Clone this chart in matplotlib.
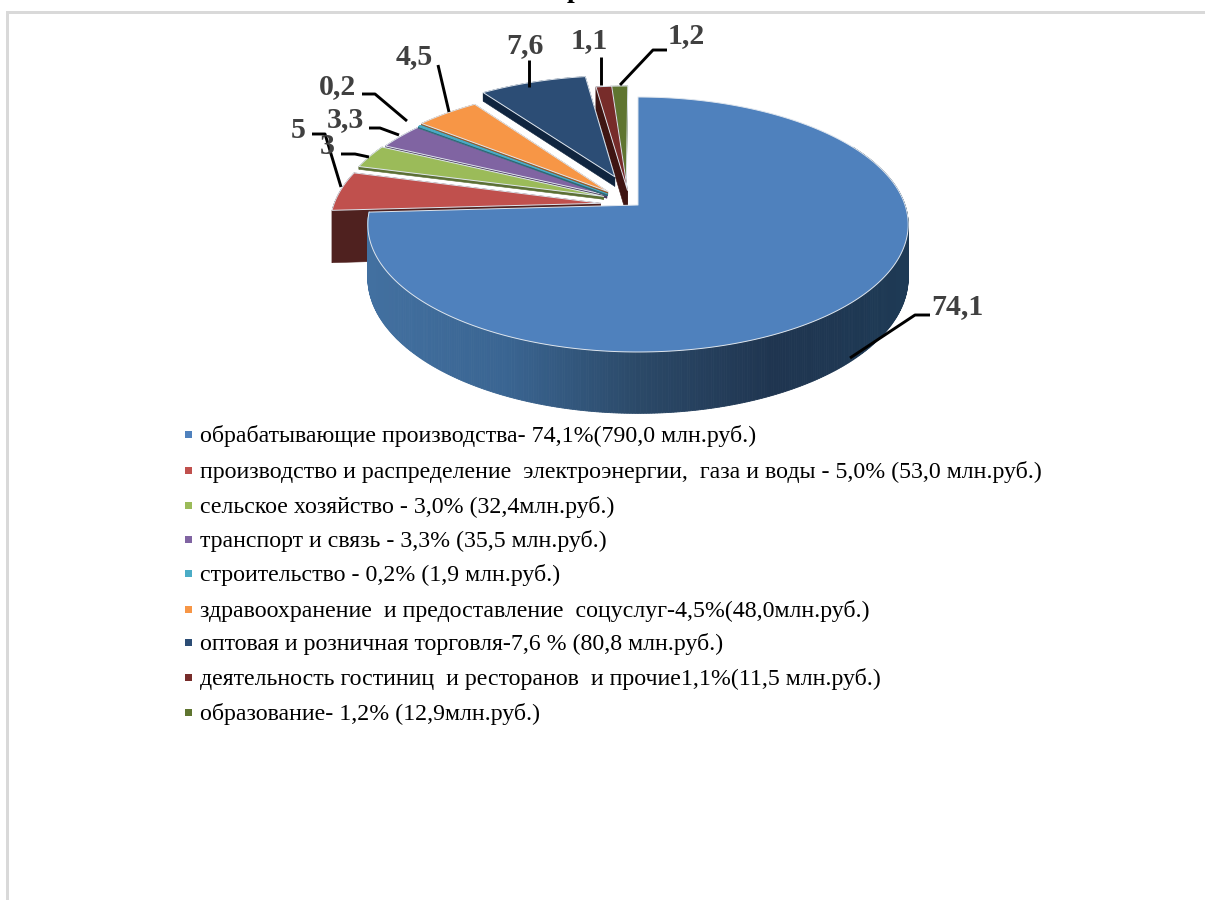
import numpy as np
import matplotlib.pyplot as plt
from matplotlib.colors import LinearSegmentedColormap
from matplotlib.patches import Polygon, Rectangle

# Data
shares = [74.1, 5.0, 3.0, 3.3, 0.2, 4.5, 7.6, 1.1, 1.2]
value_labels = ['74,1', '5', '3', '3,3', '0,2', '4,5', '7,6', '1,1', '1,2']
legend_labels = [
    'обрабатывающие производства- 74,1%(790,0 млн.руб.)',
    'производство и распределение  электроэнергии,  газа и воды - 5,0% (53,0 млн.руб.)',
    'сельское хозяйство - 3,0% (32,4млн.руб.)',
    'транспорт и связь - 3,3% (35,5 млн.руб.)',
    'строительство - 0,2% (1,9 млн.руб.)',
    'здравоохранение  и предоставление  соцуслуг-4,5%(48,0млн.руб.)',
    'оптовая и розничная торговля-7,6 % (80,8 млн.руб.)',
    'деятельность гостиниц  и ресторанов  и прочие1,1%(11,5 млн.руб.)',
    'образование- 1,2% (12,9млн.руб.)',
]

# Styles
top_colors = ['#4f81bd', '#c0504d', '#9bbb59', '#8064a2', '#4bacc6',
              '#f79646', '#2c4d75', '#772c2a', '#5f7530']
side_colors = ['#2f5d8e', '#4f211f', '#5c7035', '#4c3c61', '#2d6776',
               '#94592a', '#10253f', '#3f1512', '#39461d']
explode = [(0, 0), (-.14, .014), (-.13, .07), (-.118, .08), (-.116, .09),
           (-.115, .11), (-.09, .235), (-.04, .12), (-.045, .12)]
depths = [52, 52, 3, 3, 2, 3, 10, 28, 1]
draw_order = [8, 7, 6, 5, 3, 4, 2, 1, 0]

# Label centre and leader line, in picture pixels
label_pos = [(957, 307), (298, 131), (327, 146), (345, 120), (338, 87),
             (414, 57), (525, 46), (589, 41), (686, 36)]
leaders = [
    [(850, 358), (915, 315), (930, 315)],
    [(312, 134), (325, 134), (341, 187)],
    [(341, 154), (355, 154), (369, 157)],
    [(369, 128), (380, 128), (399, 135)],
    [(362, 94), (375, 94), (407, 121)],
    [(438, 65), (449, 112)],
    [(529, 60), (529, 87)],
    [(601, 57), (601, 85)],
    [(667, 50), (653, 50), (620, 85)],
]
legend_y = [436, 472, 507, 541, 575, 611, 644, 679, 714]

X0, Y0, A, B, K = 638, 205, 267, 124.5, 0.153
wall_cmap = LinearSegmentedColormap.from_list(
    'wall', ['#4270a0', '#3a6592', '#2b4968', '#1f3550', '#1e3a55'])


def project(x, y, z=0):
    """Perspective view of a point on the pie disc, z is the drop in pixels."""
    w = 1 + K * np.asarray(y)
    return X0 + A * np.asarray(x) / w, Y0 + (z - B * np.asarray(y)) / w


def slice_outline(start, end, off):
    t = np.radians(np.linspace(start, end, max(int(end - start) * 2, 6)))
    xs = np.r_[off[0], np.sin(t) + off[0]]
    ys = np.r_[off[1], np.cos(t) + off[1]]
    return xs, ys


fig = plt.figure(figsize=(12.05, 9), dpi=100)
ax = fig.add_axes([0, 0, 1, 1])
ax.set_xlim(0, 1205)
ax.set_ylim(900, 0)
ax.axis('off')

# frame of the page behind the chart
ax.add_patch(Rectangle((6, 11), 1199, 3, color='#d9d9d9', lw=0))
ax.add_patch(Rectangle((6, 11), 3, 889, color='#d9d9d9', lw=0))
ax.text(574, -3, 'р', family='Liberation Serif', weight='bold', fontsize=20,
        ha='center', va='baseline', color='black', clip_on=False)

edges = np.cumsum([0] + shares) / sum(shares) * 360

for i in draw_order:
    xs, ys = slice_outline(edges[i], edges[i + 1], explode[i])
    if i == 0:
        # outer wall of the big slice, shaded along the rim
        t = np.radians(np.arange(60, edges[1] + 0.5, 0.5))
        tx, ty = project(np.sin(t), np.cos(t))
        bx, by = project(np.sin(t), np.cos(t), depths[0])
        for j in range(len(t) - 1):
            quad = [(tx[j], ty[j]), (tx[j + 1], ty[j + 1]),
                    (bx[j + 1], by[j + 1]), (bx[j], by[j])]
            shade = wall_cmap(np.clip((tx[j] - 370) / 540, 0, 1))
            ax.add_patch(Polygon(quad, closed=True, fc=shade, ec=shade, lw=0.6))
    else:
        px, py = project(xs, ys)
        qx, qy = project(xs, ys, depths[i])
        n = len(px)
        for j in range(n):
            k = (j + 1) % n
            quad = [(px[j], py[j]), (px[k], py[k]), (qx[k], qy[k]), (qx[j], qy[j])]
            ax.add_patch(Polygon(quad, closed=True, fc=side_colors[i],
                                 ec=side_colors[i], lw=0.4))
    px, py = project(xs, ys)
    edge = top_colors[4] if i == 4 else '#dfe6ee'
    ax.add_patch(Polygon(np.c_[px, py], closed=True, fc=top_colors[i],
                         ec=edge, lw=0.7, joinstyle='round'))

for text, (lx, ly), line in zip(value_labels, label_pos, leaders):
    pts = np.array(line)
    ax.plot(pts[:, 0], pts[:, 1], color='black', lw=2.1, solid_capstyle='butt')
    ax.text(lx, ly, text, family='Liberation Serif', weight='bold', fontsize=21.5,
            color='#404040', ha='center', va='center')

for text, y, color in zip(legend_labels, legend_y, top_colors):
    ax.add_patch(Rectangle((185, y - 5), 7, 7, color=color, lw=0))
    ax.text(200, y, text, family='Liberation Serif', fontsize=17.2,
            color='black', ha='left', va='center')

fig.savefig('out.png', dpi=100)
